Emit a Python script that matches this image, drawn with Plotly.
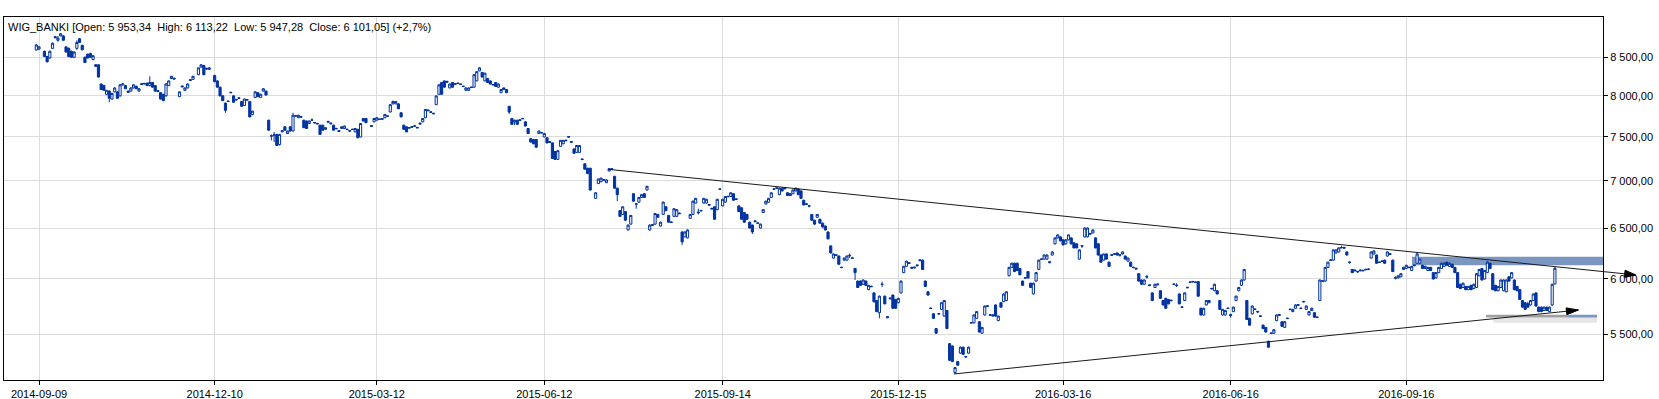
import math
import pandas as pd
import plotly.graph_objects as go

# ---------------- data ----------------
opens = [
    8598, 8610, None, 8580, 8510, 8490, 8620, 8780, 8730, 8790,
    8790, 8640, 8620, 8580, 8500, 8620, 8750, 8660, 8500, 8540,
    8550, 8470, 8400, 8400, 8150, 8130, 8020, 8060, 7960, 8050,
    8050, 8000, 8140, 8130, 8060, 8060, 8100, 8120, 8060, 8155,
    8150, 8160, 8130, 8170, 8130, 8055, 8040, 8020, 8000, 8130,
    8220, 8225, None, 7990, 8125, 8070, 8100, 8195, 8210, None,
    8270, 8370, 8390, 8355, 8340, None, 8260, 8190, 8110, 8000,
    7910, 7935, 8045, 8000, 7955, 7975, 7930, 7880, 7955, 7930,
    7770, 7980, 8040, 7980, 8060, 8060, 7700, 7515, 7520, 7530,
    7410, 7560, 7620, 7540, 7620, 7570, 7755, 7730, 7740, 7700,
    7690, 7660, 7700, 7672, 7662, 7640, 7640, 7590, 7675, 7655,
    7640, 7602, 7575, 7600, 7600, 7592, 7568, 7592, 7560, 7590,
    7500, 7720, 7720, None, 7635, 7680, 7700, 7715, 7710, 7730,
    7752, 7800, 7900, 7900, 7900, 7790, 7640, 7620, 7612, 7622,
    7626, 7614, 7665, 7680, 7730, 7825, 7802, 7785, 7890, 8020,
    8170, 8190, 8185, 8100, 8170, 8145, 8162, 8152, 8124, 8070,
    8070, 8112, 8110, 8190, 8320, 8300, 8190, 8220, 8190, 8138,
    8170, 8110, 8040, 8080, 8080, 7870, 7720, 7680, 7700, 7705,
    7722, 7680, 7600, 7480, 7470, 7470, 7540, 7552, 7500, 7490,
    7445, 7430, 7330, 7240, 7390, 7420, 7462, 7505, 7445, 7360,
    7320, 7320, 7245, 7190, 7140, 7140, None, 6810, 6970, 6990,
    7012, 6980, 7110, 7135, 7050, 6920, 6680, 6640, 6670, 6480,
    6540, 6860, 6752, 6770, 6820, 6860, 6900, 6480, 6535, 6540,
    6640, 6520, 6640, 6720, 6630, 6562, 6620, 6620, 6655, 6460,
    6410, 6400, 6600, 6640, 6760, 6665, 6682, 6760, 6760, 6745,
    6705, 6720, 6690, 6912, 6730, 6770, 6832, 6830, 6860, 6805,
    6730, 6710, 6660, 6640, 6560, 6530, 6565, 6548, 6500, 6660,
    6750, 6770, 6820, 6912, 6918, 6850, 6920, 6922, 6870, 6860,
    6860, 6890, 6910, 6890, 6790, 6745, 6732, 6640, 6580, 6610,
    6590, 6550, 6520, 6460, 6320, 6200, 6232, 6220, 6112, 6180,
    6180, 6222, 6202, 6100, 5980, 5980, 5950, 5980, 5900, 5932,
    5870, 5800, 5690, 5952, 5840, 5645, 5815, 5850, 5810, 5780,
    5870, 6060, 6120, 6155, 6100, 6105, 6125, 6175, 6180, 5980,
    5880, 5732, 5680, 5550, 5678, 5720, 5660, 5710, 5420, 5400,
    5180, 5270, 5340, 5390, 5312, 5340, 5598, 5600, 5640, 5610,
    5510, 5670, 5746, 5672, 5660, 5760, 5620, 5780, 5790, 5800,
    6030, 6110, 6150, 6150, 6100, 5980, 6012, 6070, 5960, 5860,
    5980, 6090, 6192, 6190, 6190, 6155, 6230, 6340, 6400, 6410,
    6380, 6340, 6380, 6400, 6350, 6340, 6190, 6322, 6410, 6410,
    6445, 6450, 6400, 6340, 6230, 6180, 6240, 6160, 6232, 6242,
    6250, 6232, 6240, 6220, 6170, 6160, 6112, 6102, 6050, 5990,
    5950, 6022, 5945, 5870, 5920, 5945, 5890, 5800, 5820, 5810,
    5798, 5948, 5942, 5860, 5738, 5800, 5922, 5972, 5977, 5972,
    5975, 5730, 5670, 5760, 5780, 5912, 5890, 5890, 5800, 5670,
    5670, 5732, 5675, 5700, 5800, 5890, 5940, 5990, 5800, 5640,
    5680, 5718, 5702, 5662, 5580, 5560, 5440, 5512, 5510, 5620,
    5666, 5610, 5560, 5642, 5722, 5700, 5730, 5762, 5732, 5792,
    5720, 5670, 5710, 5690, 5652, 5800, 5976, 5980, 6110, 6176,
    6180, 6250, 6260, 6300, 6305, 6260, 6162, 6090, 6085, 6072,
    6085, 6082, 6092, 6094, 6200, 6240, 6230, 6162, 6172, 6180,
    6220, 6236, 6180, 6012, 6010, 6020, 6090, 6100, 6112, 6080,
    6126, 6150, 6150, 6130, 6100, 6080, 6110, 6060, 6010, 6060,
    6100, 6120, 6160, 6120, 6140, 6110, 6060, 5950, 5920, 5930,
    5900, 5940, 5910, 5920, 6030, 6100, 6000, 6060, 6150, 6050,
    5940, 5890, 5920, 5890, 5880, 6020, 6010, 5990, 5930, 5900,
    5800, 5780, 5770, 5760, 5800, 5870, 5740, 5740, 5710, 5740,
    5700, 5760, 5953.34,
]

highs = [
    8680, 8650, None, 8590, 8520, 8590, 8700, 8790, 8790, 8830,
    8800, 8650, 8630, 8590, 8580, 8730, 8760, 8670, 8510, 8550,
    8560, 8530, 8410, 8405, 8155, 8140, 8075, 8070, 8040, 8110,
    8060, 8150, 8160, 8140, 8065, 8105, 8145, 8130, 8095, 8160,
    8160, 8170, 8250, 8175, 8135, 8070, 8045, 8025, 8160, 8195,
    8255, 8230, None, 8055, 8130, 8105, 8155, 8210, 8255, None,
    8365, 8410, 8400, 8360, 8365, None, 8270, 8195, 8115, 8005,
    7915, 7940, 8050, 8005, 7960, 7980, 7935, 7965, 7960, 7935,
    7815, 8060, 8045, 8025, 8095, 8065, 7705, 7530, 7560, 7535,
    7535, 7580, 7625, 7575, 7625, 7790, 7760, 7765, 7750, 7705,
    7695, 7695, 7720, 7676, 7666, 7645, 7645, 7615, 7690, 7668,
    7645, 7606, 7578, 7625, 7635, 7596, 7578, 7596, 7605, 7595,
    7665, 7725, 7725, None, 7638, 7725, 7735, 7718, 7725, 7775,
    7756, 7895, 7940, 7935, 7905, 7795, 7645, 7625, 7616, 7626,
    7636, 7618, 7668, 7725, 7835, 7830, 7806, 7788, 8005, 8145,
    8175, 8195, 8190, 8155, 8175, 8156, 8166, 8156, 8126, 8105,
    8105, 8115, 8275, 8315, 8370, 8305, 8295, 8225, 8195, 8146,
    8175, 8155, 8085, 8105, 8085, 7875, 7725, 7705, 7705, 7710,
    7726, 7685, 7605, 7485, 7475, 7475, 7575, 7556, 7545, 7495,
    7448, 7435, 7335, 7345, 7465, 7465, 7466, 7508, 7448, 7365,
    7405, 7405, 7248, 7195, 7145, 7145, None, 6875, 7025, 7035,
    7016, 7015, 7140, 7140, 7055, 6925, 6685, 6725, 6675, 6535,
    6635, 6865, 6756, 6825, 6855, 6865, 6945, 6535, 6538, 6655,
    6645, 6565, 6775, 6725, 6635, 6566, 6705, 6695, 6658, 6465,
    6465, 6485, 6645, 6785, 6815, 6700, 6686, 6815, 6805, 6748,
    6708, 6725, 6805, 6916, 6805, 6835, 6836, 6875, 6865, 6808,
    6735, 6715, 6665, 6645, 6565, 6535, 6575, 6556, 6545, 6695,
    6785, 6815, 6875, 6916, 6924, 6925, 6925, 6925, 6875, 6865,
    6905, 6925, 6915, 6895, 6795, 6755, 6736, 6645, 6585, 6645,
    6595, 6555, 6525, 6465, 6325, 6245, 6236, 6225, 6116, 6205,
    6225, 6245, 6206, 6105, 5985, 5985, 5995, 5985, 5945, 5936,
    5875, 5805, 5845, 5975, 5845, 5660, 5825, 5855, 5815, 5825,
    5985, 6125, 6175, 6158, 6115, 6115, 6135, 6185, 6185, 5985,
    5885, 5736, 5685, 5555, 5686, 5785, 5805, 5715, 5425, 5405,
    5225, 5275, 5395, 5395, 5316, 5395, 5606, 5675, 5705, 5615,
    5565, 5755, 5756, 5676, 5675, 5765, 5665, 5785, 5865, 5885,
    6115, 6155, 6155, 6155, 6105, 5985, 6016, 6075, 5965, 5965,
    6065, 6185, 6196, 6235, 6235, 6168, 6265, 6405, 6435, 6415,
    6385, 6385, 6435, 6405, 6355, 6345, 6285, 6328, 6505, 6505,
    6448, 6485, 6405, 6345, 6235, 6245, 6245, 6165, 6236, 6246,
    6255, 6236, 6265, 6225, 6205, 6165, 6116, 6106, 6055, 5995,
    5995, 6040, 5948, 5875, 5955, 5956, 5895, 5805, 5825, 5815,
    5806, 5956, 5960, 5865, 5746, 5875, 5926, 5976, 5981, 5976,
    5980, 5735, 5735, 5805, 5805, 5916, 5955, 5895, 5805, 5725,
    5715, 5736, 5680, 5745, 5845, 5925, 5995, 6095, 5805, 5645,
    5755, 5726, 5706, 5666, 5585, 5565, 5445, 5516, 5545, 5675,
    5676, 5615, 5615, 5646, 5726, 5725, 5765, 5766, 5736, 5796,
    5755, 5705, 5735, 5695, 5656, 5995, 5986, 6115, 6165, 6186,
    6285, 6285, 6305, 6320, 6310, 6265, 6166, 6095, 6088, 6076,
    6088, 6086, 6096, 6098, 6265, 6275, 6235, 6165, 6176, 6185,
    6265, 6246, 6185, 6025, 6035, 6055, 6115, 6135, 6116, 6125,
    6136, 6260, 6195, 6135, 6125, 6115, 6115, 6065, 6065, 6115,
    6155, 6160, 6165, 6160, 6145, 6115, 6065, 5955, 5965, 5935,
    5935, 5945, 5955, 6055, 6095, 6105, 6085, 6170, 6155, 6055,
    5945, 5935, 5995, 5995, 5995, 6025, 6065, 5995, 5935, 5905,
    5805, 5785, 5790, 5805, 5865, 5875, 5745, 5745, 5745, 5745,
    5745, 5955, 6113.22,
]

lows = [
    8590, 8600, None, 8505, 8430, 8480, 8615, 8760, 8710, 8785,
    8725, 8565, 8500, 8495, 8490, 8600, 8695, 8595, 8425, 8485,
    8495, 8460, 8375, 8235, 8075, 8065, 8010, 7920, 7950, 8045,
    7960, 7990, 8130, 8085, 8040, 8055, 8095, 8085, 8055, 8140,
    8145, 8125, 8120, 8105, 8055, 8045, 7955, 7935, 7990, 8125,
    8215, 8210, None, 7985, 8110, 8065, 8095, 8190, 8205, None,
    8265, 8365, 8265, 8340, 8335, None, 8175, 8105, 7995, 7935,
    7790, 7925, 8035, 7915, 7945, 7965, 7865, 7875, 7945, 7735,
    7760, 7975, 7985, 7975, 8055, 8005, 7575, 7460, 7440, 7395,
    7400, 7555, 7575, 7535, 7565, 7565, 7745, 7725, 7725, 7605,
    7595, 7655, 7695, 7660, 7650, 7525, 7575, 7585, 7670, 7650,
    7575, 7590, 7560, 7595, 7595, 7580, 7560, 7582, 7555, 7485,
    7495, 7685, 7665, None, 7622, 7675, 7695, 7705, 7705, 7725,
    7744, 7795, 7895, 7895, 7835, 7735, 7585, 7555, 7600, 7612,
    7622, 7604, 7650, 7675, 7725, 7812, 7792, 7775, 7885, 8015,
    8015, 8105, 8170, 8095, 8105, 8140, 8155, 8142, 8114, 8065,
    8065, 8104, 8105, 8185, 8315, 8235, 8185, 8165, 8145, 8134,
    8115, 8105, 8035, 8075, 8035, 7775, 7645, 7640, 7645, 7695,
    7714, 7625, 7535, 7435, 7415, 7375, 7535, 7544, 7495, 7425,
    7432, 7245, 7235, 7235, 7385, 7415, 7452, 7495, 7435, 7305,
    7315, 7315, 7235, 7125, 7075, 6895, None, 6805, 6965, 6985,
    7004, 6975, 7105, 7125, 6915, 6780, 6615, 6635, 6575, 6475,
    6535, 6775, 6700, 6765, 6815, 6815, 6895, 6475, 6525, 6535,
    6605, 6515, 6635, 6675, 6555, 6554, 6615, 6615, 6645, 6330,
    6405, 6395, 6595, 6635, 6755, 6640, 6674, 6755, 6755, 6735,
    6695, 6585, 6685, 6904, 6725, 6765, 6824, 6825, 6785, 6795,
    6665, 6585, 6555, 6585, 6495, 6440, 6560, 6544, 6495, 6655,
    6745, 6765, 6815, 6904, 6914, 6845, 6885, 6910, 6835, 6835,
    6855, 6885, 6845, 6805, 6735, 6740, 6715, 6575, 6530, 6605,
    6545, 6505, 6475, 6385, 6245, 6195, 6224, 6135, 6104, 6175,
    6175, 6200, 6194, 5990, 5915, 5935, 5945, 5935, 5895, 5924,
    5780, 5695, 5640, 5925, 5765, 5640, 5812, 5725, 5725, 5775,
    5865, 6055, 6115, 6145, 6095, 6100, 6120, 6170, 6085, 5925,
    5845, 5724, 5635, 5505, 5674, 5715, 5655, 5545, 5275, 5265,
    5167, 5235, 5335, 5325, 5304, 5335, 5594, 5595, 5635, 5515,
    5505, 5665, 5742, 5664, 5655, 5655, 5615, 5735, 5785, 5795,
    6025, 6105, 6065, 6075, 6035, 5935, 6004, 6005, 5915, 5855,
    5975, 6085, 6184, 6185, 6185, 6150, 6225, 6335, 6395, 6365,
    6325, 6335, 6375, 6335, 6295, 6295, 6185, 6300, 6405, 6405,
    6435, 6445, 6295, 6225, 6155, 6175, 6185, 6115, 6224, 6234,
    6225, 6215, 6235, 6185, 6165, 6115, 6104, 6090, 5975, 5945,
    5945, 6005, 5935, 5795, 5915, 5940, 5815, 5755, 5725, 5765,
    5794, 5944, 5925, 5765, 5734, 5795, 5914, 5964, 5969, 5964,
    5835, 5665, 5665, 5755, 5775, 5904, 5885, 5855, 5715, 5665,
    5665, 5724, 5645, 5695, 5795, 5885, 5935, 5985, 5625, 5575,
    5675, 5714, 5685, 5654, 5545, 5515, 5385, 5504, 5505, 5615,
    5662, 5565, 5555, 5634, 5714, 5695, 5725, 5754, 5724, 5784,
    5715, 5665, 5705, 5645, 5644, 5795, 5972, 5975, 6105, 6172,
    6175, 6245, 6255, 6296, 6295, 6225, 6145, 6055, 6075, 6055,
    6075, 6074, 6084, 6086, 6195, 6235, 6145, 6155, 6164, 6145,
    6215, 6232, 6065, 5995, 6005, 6015, 6085, 6095, 6104, 6075,
    6122, 6145, 6145, 6095, 6095, 6075, 6075, 5995, 6005, 6055,
    6095, 6115, 6125, 6115, 6105, 6055, 5915, 5905, 5915, 5895,
    5895, 5895, 5905, 5915, 6025, 5985, 5995, 6055, 6095, 5895,
    5885, 5885, 5915, 5885, 5875, 5975, 6005, 5895, 5885, 5805,
    5735, 5715, 5735, 5755, 5795, 5745, 5695, 5695, 5705, 5705,
    5695, 5750, 5947.28,
]

closes = [
    8666, 8640, None, 8510, 8440, 8580, 8690, 8765, 8760, 8820,
    8730, 8570, 8510, 8500, 8570, 8700, 8700, 8600, 8430, 8490,
    8500, 8520, 8380, 8240, 8080, 8070, 8070, 7970, 8030, 8100,
    7970, 8140, 8150, 8090, 8045, 8100, 8140, 8090, 8090, 8145,
    8158, 8130, 8170, 8110, 8060, 8065, 7960, 7940, 8150, 8190,
    8250, 8215, None, 8050, 8115, 8100, 8150, 8205, 8250, None,
    8360, 8400, 8270, 8345, 8360, None, 8180, 8110, 8000, 7940,
    7820, 7930, 8040, 7920, 7950, 7970, 7870, 7960, 7948, 7740,
    7810, 8050, 7990, 8020, 8090, 8010, 7580, 7510, 7525, 7400,
    7530, 7575, 7580, 7570, 7570, 7760, 7750, 7760, 7742, 7610,
    7600, 7690, 7702, 7668, 7656, 7530, 7580, 7610, 7685, 7664,
    7580, 7598, 7565, 7620, 7630, 7588, 7575, 7588, 7600, 7490,
    7660, 7690, 7670, None, 7626, 7720, 7730, 7708, 7720, 7770,
    7748, 7890, 7930, 7930, 7840, 7740, 7590, 7560, 7606, 7616,
    7632, 7608, 7655, 7720, 7830, 7816, 7796, 7778, 8000, 8140,
    8020, 8110, 8175, 8150, 8110, 8152, 8158, 8146, 8118, 8100,
    8100, 8106, 8270, 8310, 8360, 8240, 8290, 8170, 8150, 8143,
    8120, 8150, 8080, 8100, 8040, 7800, 7650, 7700, 7650, 7698,
    7718, 7630, 7540, 7440, 7420, 7380, 7570, 7548, 7540, 7430,
    7436, 7250, 7240, 7340, 7460, 7460, 7456, 7498, 7438, 7310,
    7400, 7400, 7238, 7130, 7080, 6900, None, 6870, 7020, 7030,
    7008, 7010, 7135, 7128, 6920, 6850, 6620, 6720, 6580, 6530,
    6630, 6780, 6748, 6820, 6850, 6820, 6940, 6530, 6528, 6650,
    6610, 6560, 6770, 6680, 6560, 6558, 6700, 6690, 6648, 6360,
    6460, 6480, 6640, 6780, 6810, 6658, 6678, 6810, 6800, 6738,
    6698, 6590, 6800, 6908, 6800, 6830, 6828, 6870, 6790, 6798,
    6670, 6590, 6560, 6590, 6500, 6460, 6572, 6552, 6540, 6690,
    6780, 6810, 6870, 6908, 6922, 6920, 6890, 6914, 6840, 6840,
    6900, 6920, 6850, 6810, 6740, 6752, 6728, 6580, 6540, 6640,
    6550, 6510, 6480, 6390, 6250, 6240, 6228, 6140, 6108, 6200,
    6220, 6226, 6198, 6060, 5920, 5940, 5990, 5940, 5940, 5928,
    5790, 5700, 5840, 5948, 5770, 5655, 5822, 5730, 5730, 5820,
    5980, 6120, 6170, 6148, 6110, 6112, 6132, 6182, 6090, 5930,
    5850, 5728, 5640, 5510, 5682, 5780, 5800, 5550, 5280, 5270,
    5220, 5240, 5390, 5330, 5308, 5390, 5602, 5670, 5700, 5520,
    5560, 5750, 5752, 5668, 5670, 5660, 5660, 5740, 5860, 5880,
    6110, 6150, 6070, 6080, 6040, 5940, 6008, 6010, 5920, 5960,
    6060, 6180, 6188, 6230, 6230, 6164, 6260, 6400, 6430, 6370,
    6330, 6380, 6430, 6340, 6300, 6300, 6280, 6318, 6500, 6500,
    6438, 6480, 6300, 6230, 6160, 6240, 6190, 6120, 6228, 6238,
    6230, 6228, 6260, 6190, 6200, 6120, 6108, 6095, 5980, 5950,
    5990, 6018, 5938, 5800, 5950, 5952, 5820, 5760, 5730, 5770,
    5802, 5952, 5938, 5770, 5742, 5870, 5918, 5968, 5973, 5968,
    5840, 5670, 5730, 5800, 5800, 5908, 5950, 5860, 5720, 5720,
    5710, 5728, 5665, 5740, 5840, 5920, 5990, 6090, 5630, 5580,
    5750, 5722, 5698, 5658, 5550, 5520, 5390, 5508, 5540, 5670,
    5672, 5570, 5610, 5638, 5718, 5720, 5760, 5758, 5728, 5788,
    5750, 5700, 5730, 5650, 5648, 5990, 5982, 6110, 6160, 6182,
    6280, 6280, 6300, 6304, 6298, 6230, 6158, 6060, 6078, 6068,
    6078, 6078, 6088, 6092, 6260, 6270, 6150, 6158, 6168, 6150,
    6260, 6242, 6070, 6008, 6030, 6050, 6110, 6130, 6108, 6120,
    6132, 6240, 6190, 6100, 6120, 6110, 6080, 6000, 6060, 6110,
    6150, 6150, 6130, 6150, 6110, 6060, 5920, 5910, 5960, 5900,
    5930, 5900, 5950, 6050, 6090, 5990, 6080, 6160, 6100, 5900,
    5890, 5930, 5990, 5990, 5990, 5980, 6060, 5900, 5890, 5810,
    5740, 5720, 5740, 5800, 5860, 5750, 5700, 5700, 5740, 5710,
    5740, 5950, 6101.05,
]

# GPW trading calendar (sessions on the x axis)
holidays = [
    "2014-11-11", "2014-12-24", "2014-12-25", "2014-12-26", "2014-12-31",
    "2015-01-01", "2015-01-06", "2015-04-03", "2015-04-06", "2015-05-01",
    "2015-06-04", "2015-11-11", "2015-12-24", "2015-12-25", "2015-12-31",
    "2016-01-01", "2016-01-06", "2016-03-25", "2016-03-28", "2016-05-03",
    "2016-05-26", "2016-08-15", "2016-11-01", "2016-11-11",
]
tick_dates = ["2014-09-09", "2014-12-10", "2015-03-12", "2015-06-12", "2015-09-14",
              "2015-12-15", "2016-03-16", "2016-06-16", "2016-09-16"]
y_ticks = [5500, 6000, 6500, 7000, 7500, 8000, 8500]

title_text = ("WIG_BANKI [Open: 5 953,34\u00a0\u00a0High: 6 113,22\u00a0\u00a0"
              "Low: 5 947,28\u00a0\u00a0Close: 6 101,05] (+2,7%)")

# drawn objects: trend lines (session index, value) and zones
upper_trend = dict(k0=211.6, v0=7128, k1=591.9, v1=6038)
lower_trend = dict(k0=339.6, v0=5168, k1=570.7, v1=5714)
upper_zone = dict(k0=509.1, k1=579.8, v0=6130, v1=6214)
lower_zone = dict(k0=536.5, ksplit=566.9, k1=577.6, v0=5647, v1=5672, vshade=5600, kshade=539.1)

# ---------------- figure ----------------
N = min(len(opens), len(highs), len(lows), len(closes))
opens, highs, lows, closes = opens[:N], highs[:N], lows[:N], closes[:N]
dates = pd.bdate_range("2014-09-08", "2016-12-06", freq="C", holidays=holidays)
date_str = [d.strftime("%Y-%m-%d") for d in dates]
xs = list(range(N))
tick_idx = [date_str.index(d) for d in tick_dates if d in date_str]
tick_txt = [d for d in tick_dates if d in date_str]

BLUE = "#0033a0"
X0, X1 = -11.96, 579.8
Y0, Y1 = 3.7092, 3.9569
W, H = 1599.0, 363.0

def paper(k, v):
    return (k - X0) / (X1 - X0), (math.log10(v) - Y0) / (Y1 - Y0)

def fmt(v):
    return f"{v:,.2f}".replace(",", " ").replace(".", ",")

fig = go.Figure()
fig.add_trace(go.Candlestick(
    x=xs, open=opens, high=highs, low=lows, close=closes,
    increasing=dict(line=dict(color=BLUE, width=1), fillcolor="#ffffff"),
    decreasing=dict(line=dict(color=BLUE, width=1), fillcolor=BLUE),
    whiskerwidth=0, showlegend=False, hoverinfo="skip",
))

shapes = []
# zones
shapes.append(dict(type="rect", xref="x", yref="y", layer="between",
                   x0=upper_zone["k0"], x1=upper_zone["k1"], y0=upper_zone["v0"], y1=upper_zone["v1"],
                   fillcolor="#7b96c0", line=dict(width=0)))
shapes.append(dict(type="rect", xref="x", yref="y", layer="between",
                   x0=lower_zone["kshade"], x1=lower_zone["k1"], y0=lower_zone["vshade"], y1=lower_zone["v0"],
                   fillcolor="#e6e6e6", line=dict(width=0)))
shapes.append(dict(type="rect", xref="x", yref="y", layer="between",
                   x0=lower_zone["k0"], x1=lower_zone["ksplit"], y0=lower_zone["v0"], y1=lower_zone["v1"],
                   fillcolor="#a0a0a0", line=dict(width=0)))
shapes.append(dict(type="rect", xref="x", yref="y", layer="between",
                   x0=lower_zone["ksplit"], x1=lower_zone["k1"], y0=lower_zone["v0"], y1=lower_zone["v1"],
                   fillcolor="#7b96c0", line=dict(width=0)))

def arrow(t, head_len=11.0, half_w=3.6):
    ax0, ay0 = paper(t["k0"], t["v0"])
    ax1, ay1 = paper(t["k1"], t["v1"])
    out = [dict(type="line", xref="paper", yref="paper", layer="above",
                x0=ax0, y0=ay0, x1=ax1, y1=ay1, line=dict(color="#1a1a1a", width=1))]
    px0, py0, px1, py1 = ax0 * W, ay0 * H, ax1 * W, ay1 * H
    dx, dy = px1 - px0, py1 - py0
    L = math.hypot(dx, dy)
    ux, uy = dx / L, dy / L
    nx, ny = -uy, ux
    bx, by = px1 - head_len * ux, py1 - head_len * uy
    pts = [(px1, py1), (bx + half_w * nx, by + half_w * ny), (bx - half_w * nx, by - half_w * ny)]
    path = "M {} {} L {} {} L {} {} Z".format(*[c for p in pts for c in (p[0] / W, p[1] / H)])
    out.append(dict(type="path", xref="paper", yref="paper", layer="above", path=path,
                    fillcolor="#000000", line=dict(color="#000000", width=1)))
    return out

shapes += arrow(upper_trend)
shapes += arrow(lower_trend, head_len=12.0, half_w=3.4)

font = dict(family="Liberation Sans, Arial, sans-serif", size=11, color="#000000")

fig.update_layout(
    width=1659, height=399,
    margin=dict(l=4, r=56, t=17, b=19, autoexpand=False),
    paper_bgcolor="#ffffff", plot_bgcolor="#ffffff",
    font=font, boxgap=0.2, boxgroupgap=0, showlegend=False,
    shapes=shapes,
    annotations=[dict(text=title_text, xref="paper", yref="paper", x=0, y=1,
                      xanchor="left", yanchor="top", xshift=2, yshift=-2,
                      showarrow=False, font=font)],
    xaxis=dict(range=[X0, X1], tickmode="array", tickvals=tick_idx, ticktext=tick_txt,
               showgrid=True, gridcolor="#dcdcdc", gridwidth=1, zeroline=False,
               showline=True, linecolor="#000000", linewidth=1, mirror=True,
               ticks="outside", ticklen=4, tickcolor="#000000",
               rangeslider=dict(visible=False), tickfont=font, fixedrange=True),
    yaxis=dict(type="log", range=[Y0, Y1], side="right", tickmode="array",
               tickvals=y_ticks, ticktext=[fmt(v) for v in y_ticks],
               showgrid=True, gridcolor="#dcdcdc", gridwidth=1, zeroline=False,
               showline=True, linecolor="#000000", linewidth=1, mirror=True,
               ticks="outside", ticklen=4, tickcolor="#000000", tickfont=font, fixedrange=True),
)

fig.write_html("out.html", config={"displayModeBar": False},
               post_script="document.body.style.margin='0';document.body.style.overflow='hidden';")
